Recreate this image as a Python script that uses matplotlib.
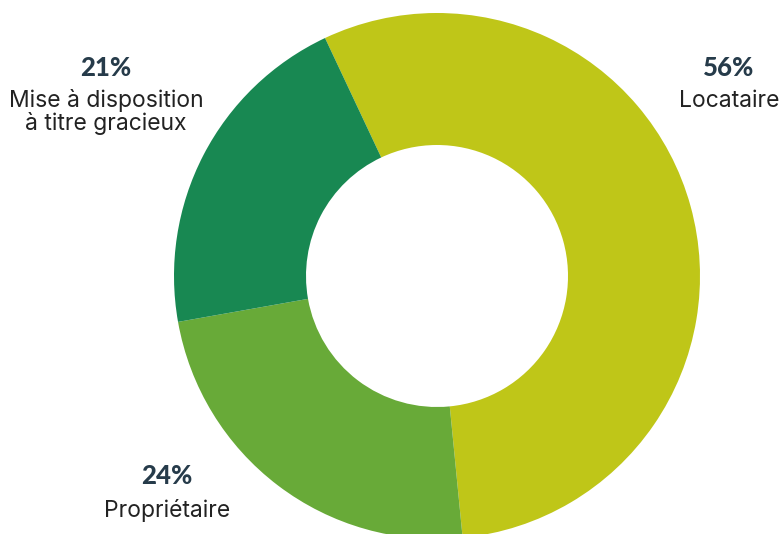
import matplotlib
matplotlib.use("Agg")
import matplotlib.pyplot as plt

labels = ["Locataire", "Propriétaire", "Mise à disposition\nà titre gracieux"]
values = [56, 24, 21]
pct_labels = ["56%", "24%", "21%"]
colors = ["#BFC618", "#68AA38", "#188852"]

W, H = 783, 534
fig = plt.figure(figsize=(W / 100, H / 100), dpi=100)
ax = fig.add_axes([0, 0, 1, 1])

cx, cy, R = 437, H - 276, 263
ax.pie(values, colors=colors, startangle=115.2, counterclock=False,
       radius=R, center=(cx, cy),
       wedgeprops=dict(width=R - 131, edgecolor="none", linewidth=0))
ax.set_xlim(0, W)
ax.set_ylim(0, H)
ax.set_aspect("equal")
ax.axis("off")

txt = "#263B4A"
# label positions (pixel coords from top)
pos = [(729, 68, 101), (167, 476, 510), (106, 68, 112)]
for (x, yp, yl), p, lab in zip(pos, pct_labels, labels):
    ax.text(x, H - yp, p, ha="center", va="center", fontsize=18.5,
            fontweight="black", family="Lato", color=txt)
    ax.text(x, H - yl, lab, ha="center", va="center", fontsize=16.5,
            family="Inter", color="#222222", linespacing=0.95)

fig.savefig("out.png", dpi=100)
